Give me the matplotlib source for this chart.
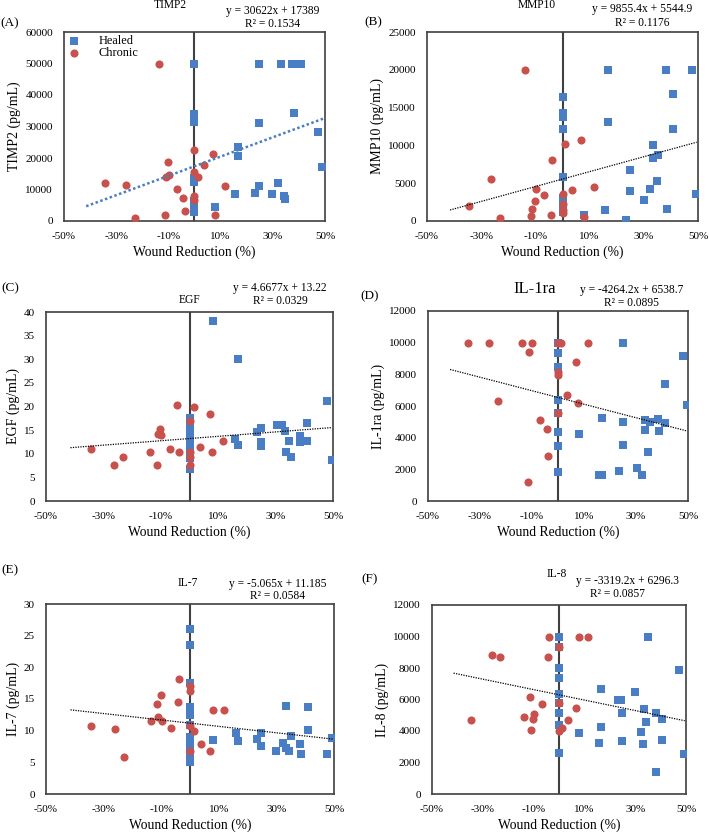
import matplotlib
matplotlib.use("Agg")
import matplotlib.pyplot as plt

plt.rcParams['font.family'] = ['Liberation Serif', 'DejaVu Serif']

BLUE = "#4a7ec4"
RED = "#c8504d"

# Panel A - TIMP2
hx_a = [0, 0, 0, 0, 0, 0, 0, 0, 0, 0.078, 0.156, 0.166, 0.166, 0.23, 0.247, 0.247, 0.247,
        0.297, 0.32, 0.332, 0.342, 0.348, 0.373, 0.395, 0.408, 0.381, 0.472, 0.487]
hy_a = [50000, 34000, 33000, 31500, 13500, 12500, 6500, 4000, 3000, 4460, 8700, 23560, 20600,
        9000, 11150, 50000, 31200, 8700, 12000, 50000, 7960, 7100, 50000, 50000, 50000, 34200,
        28300, 17000]
cx_a = [-0.135, -0.342, -0.261, -0.229, -0.114, -0.101, -0.099, -0.109, -0.068, -0.043, -0.038,
        0, 0, 0.013, 0.035, 0, 0, 0.07, 0.077, 0.115]
cy_a = [50000, 12100, 11400, 1060, 2000, 18700, 14750, 13900, 10200, 7430, 3300, 22600, 15700,
        14000, 17900, 7960, 6580, 21400, 2000, 11000]

# Panel B - MMP10
hx_b = [0, 0, 0, 0, 0, 0, 0, 0, 0.08, 0.157, 0.169, 0.169, 0.233, 0.249, 0.249, 0.3, 0.322,
        0.333, 0.333, 0.351, 0.347, 0.381, 0.384, 0.409, 0.409, 0.478, 0.493]
hy_b = [16460, 14300, 13700, 12120, 5840, 3000, 2200, 1200, 840, 1500, 20000, 13100, 180, 6800,
        3980, 2740, 4200, 10000, 8320, 8720, 5270, 20000, 1640, 16770, 12210, 20000, 3630]
cx_b = [-0.137, -0.344, -0.264, -0.231, -0.115, -0.111, -0.102, -0.099, -0.068, -0.042, -0.037,
        0, 0, 0, 0, 0.011, 0.036, 0.07, 0.079, 0.115]
cy_b = [20000, 2040, 5530, 400, 620, 1640, 2650, 4290, 3450, 750, 8050, 3630, 2300, 1500, 1000,
        10180, 4120, 10710, 530, 4560]

# Panel C - EGF
hx_c = [0.083, 0.169, 0.479, 0, 0, 0, 0, 0, 0, 0, 0, 0, 0, 0.159, 0.169, 0.234, 0.249, 0.249,
        0.249, 0.304, 0.324, 0.333, 0.335, 0.345, 0.353, 0.385, 0.385, 0.408, 0.41, 0.495]
hy_c = [38.2, 30.1, 21.1, 17.5, 16, 15, 14, 13, 12, 11, 10, 9, 6.8, 13.2, 11.8, 14.5, 15.5, 12.5,
        11.6, 16.1, 16.1, 14.9, 10.4, 12.7, 9.4, 13.7, 12.4, 12.7, 16.6, 8.6]
cx_c = [-0.344, -0.263, -0.231, -0.138, -0.112, -0.111, -0.102, -0.098, -0.067, -0.043, -0.037,
        0, 0, 0, 0, 0.014, 0.037, 0.071, 0.079, 0.117]
cy_c = [10.9, 7.6, 9.3, 10.4, 7.7, 14.2, 15.2, 14.0, 11.0, 20.3, 10.4, 16.9, 10.3, 9.3, 7.6,
        19.9, 11.5, 18.5, 10.3, 12.7]

# Panel D - IL-1ra
hx_d = [0, 0, 0, 0, 0, 0, 0, 0, 0.081, 0.168, 0.158, 0.168, 0.233, 0.249, 0.25, 0.251, 0.303,
        0.324, 0.336, 0.336, 0.353, 0.346, 0.385, 0.387, 0.41, 0.412, 0.481, 0.496]
hy_d = [10000, 9370, 8440, 6350, 5570, 4370, 3460, 1840, 4240, 5250, 1620, 1670, 1920, 10000,
        5020, 3520, 2090, 1620, 5130, 4510, 4980, 3080, 5210, 4410, 7360, 4920, 9180, 6050]
cx_d = [-0.346, -0.264, -0.231, -0.137, -0.101, -0.112, -0.115, -0.068, -0.044, -0.038, 0,
        0.013, 0, 0, 0, 0.036, 0.071, 0.078, 0.117]
cy_d = [10000, 10000, 6310, 10000, 10000, 9410, 1200, 5110, 4540, 2830, 10000, 10000, 8120,
        7950, 5530, 6690, 8760, 6160, 10000]

# Panel E - IL-7
hx_e = [0, 0, 0, 0, 0, 0, 0, 0, 0, 0, 0, 0, 0.08, 0.158, 0.167, 0.232, 0.247, 0.248, 0.3,
        0.323, 0.333, 0.335, 0.345, 0.351, 0.382, 0.385, 0.408, 0.409, 0.477, 0.493]
hy_e = [26.0, 23.5, 17.5, 13.8, 12.5, 10.9, 9.0, 8.5, 7.8, 7.0, 6.0, 5.0, 8.6, 9.6, 8.3, 8.7,
        7.6, 9.7, 6.8, 8.1, 13.9, 7.3, 6.8, 9.2, 7.9, 6.3, 13.8, 10.1, 6.3, 8.8]
cx_e = [-0.343, -0.262, -0.23, -0.137, -0.113, -0.111, -0.102, -0.098, -0.067, -0.043, -0.037,
        0, 0, 0, 0, 0.014, 0.037, 0.07, 0.079, 0.118]
cy_e = [10.8, 10.2, 5.8, 11.6, 14.2, 12.1, 15.6, 11.6, 10.5, 14.5, 18.1, 17.1, 16.2, 10.7, 6.8,
        10.0, 7.9, 6.8, 13.3, 13.3]

# Panel F - IL-8
hx_f = [0, 0, 0, 0, 0, 0, 0, 0, 0, 0.08, 0.158, 0.167, 0.167, 0.232, 0.245, 0.247, 0.247, 0.299,
        0.322, 0.332, 0.333, 0.343, 0.35, 0.38, 0.383, 0.404, 0.407, 0.472, 0.492]
hy_f = [10000, 9350, 7970, 7340, 6340, 5750, 5170, 4410, 2630, 3880, 3240, 6640, 4260, 5940,
        6000, 5170, 3370, 6490, 3920, 3200, 5370, 4580, 10000, 5170, 1420, 4790, 3460, 7870, 2520]
cx_f = [-0.345, -0.263, -0.232, -0.138, -0.114, -0.111, -0.103, -0.097, -0.068, -0.043, -0.038,
        0, 0, 0, 0.012, 0.034, 0.068, 0.078, 0.116]
cy_f = [4730, 8840, 8720, 4880, 6190, 4050, 4750, 5050, 5700, 8720, 10000, 9350, 5750, 3990,
        4200, 4710, 5430, 10000, 10000]

# trendline fits shown on the chart (slope, intercept, R2)
fits = {
    "A": (30622, 17389, "0.1534"),
    "B": (9855.4, 5544.9, "0.1176"),
    "C": (4.6677, 13.22, "0.0329"),
    "D": (-4264.2, 6538.7, "0.0895"),
    "E": (-5.065, 11.185, "0.0584"),
    "F": (-3319.2, 6296.3, "0.0857"),
}
eq_text = {
    "A": "y = 30622x + 17389",
    "B": "y = 9855.4x + 5544.9",
    "C": "y = 4.6677x + 13.22",
    "D": "y = -4264.2x + 6538.7",
    "E": "y = -5.065x + 11.185",
    "F": "y = -3319.2x + 6296.3",
}
trend_x = [-0.415, 0.495]

W, H = 709, 834
fig = plt.figure(figsize=(W / 100, H / 100), dpi=100)


def add_panel(key, box, hx, hy, cx, cy, ymax, ystep, ylabel, title, title_xy, title_size,
              eq_xy, r2_xy, tag_xy, trend_color="black", trend_lw=0.9):
    l, r, t, b = box
    ax = fig.add_axes([l / W, 1 - b / H, (r - l) / W, (b - t) / H])
    ax.axvline(0, color="#404040", lw=1.5, zorder=1)
    ax.scatter(hx, hy, marker="s", s=30, color=BLUE, label="Healed", zorder=3, linewidths=0)
    ax.scatter(cx, cy, marker="o", s=34, color=RED, label="Chronic", zorder=4, linewidths=0)
    m, c, r2 = fits[key]
    ty = [m * x + c for x in trend_x]
    ax.plot(trend_x, ty, color=trend_color, lw=trend_lw, ls=(0, (1, 1)), zorder=5)
    ax.set_xlim(-0.5, 0.5)
    ax.set_ylim(0, ymax)
    xt = [-0.5, -0.3, -0.1, 0.1, 0.3, 0.5]
    ax.set_xticks(xt)
    ax.set_xticklabels([f"{int(round(v * 100))}%" for v in xt])
    yt = list(range(0, int(ymax) + 1, int(ystep)))
    ax.set_yticks(yt)
    ax.tick_params(length=0, labelsize=8, pad=8)
    ax.tick_params(axis="y", pad=8)
    for s in ax.spines.values():
        s.set_color("#404040")
        s.set_linewidth(1.2)
    ax.set_xlabel("Wound Reduction (%)", fontsize=9.8, labelpad=3)
    ax.set_ylabel(ylabel, fontsize=10, labelpad=3)
    fig.text(title_xy[0] / W, 1 - title_xy[1] / H, title, fontsize=title_size,
             ha="center", va="center")
    fig.text(eq_xy[0] / W, 1 - eq_xy[1] / H, eq_text[key], fontsize=8.3, ha="center", va="center")
    fig.text(r2_xy[0] / W, 1 - r2_xy[1] / H, "R² = " + r2, fontsize=8.3, ha="center", va="center")
    fig.text(tag_xy[0] / W, 1 - tag_xy[1] / H, f"({key})", fontsize=9.5, ha="center", va="center")
    return ax


ax_a = add_panel("A", (64, 325, 32, 221), hx_a, hy_a, cx_a, cy_a, 60000, 10000, "TIMP2 (pg/mL)",
                 "TIMP2", (170, 5), 8.3, (273, 11), (273, 24), (10, 23),
                 trend_color=BLUE, trend_lw=1.8)
ax_a.legend(loc="upper left", bbox_to_anchor=(-0.04, 1.03), frameon=False, fontsize=8.8,
            handletextpad=1.0, labelspacing=0.05, borderaxespad=0.3, markerscale=1.0)

add_panel("B", (427, 698, 32, 221), hx_b, hy_b, cx_b, cy_b, 25000, 5000, "MMP10 (pg/mL)",
          "MMP10", (537, 5), 8.3, (642, 9), (642, 23), (373, 22))
add_panel("C", (46, 333, 312, 501), hx_c, hy_c, cx_c, cy_c, 40, 5, "EGF (pg/mL)",
          "EGF", (190, 300), 8.3, (280, 288), (280, 301), (10, 288))
add_panel("D", (428, 688, 311, 501), hx_d, hy_d, cx_d, cy_d, 12000, 2000, "IL-1ra (pg/mL)",
          "IL-1ra", (535, 289), 12, (632, 290), (632, 303), (370, 296))
add_panel("E", (46, 334, 604, 794), hx_e, hy_e, cx_e, cy_e, 30, 5, "IL-7 (pg/mL)",
          "IL-7", (188, 583), 8.3, (278, 584), (278, 596), (10, 570))
add_panel("F", (432, 686, 605, 794), hx_f, hy_f, cx_f, cy_f, 12000, 2000, "IL-8 (pg/mL)",
          "IL-8", (557, 574), 8.3, (627, 581), (618, 594), (370, 579))

plt.savefig("out.png", dpi=100)
